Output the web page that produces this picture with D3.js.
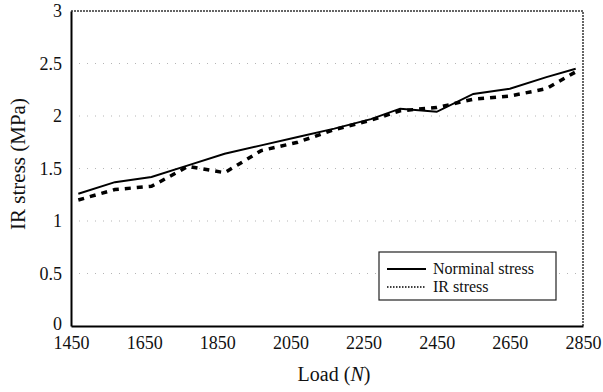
<!DOCTYPE html>
<html>
<head>
<meta charset="utf-8">
<script src="https://cdn.jsdelivr.net/npm/d3@7"></script>
<style>
body { margin: 0; background: #fff; }
</style>
</head>
<body>
<script>
var loads = [1470, 1570, 1670, 1770, 1870, 1970, 2070, 2170, 2270, 2350, 2450, 2550, 2650, 2750, 2830];
var nominalStress = [1.26, 1.37, 1.42, 1.53, 1.64, 1.72, 1.80, 1.88, 1.97, 2.07, 2.04, 2.21, 2.26, 2.37, 2.45];
var irStress = [1.20, 1.30, 1.33, 1.52, 1.46, 1.67, 1.75, 1.87, 1.96, 2.05, 2.08, 2.16, 2.19, 2.26, 2.42];
var xTicks = [1450, 1650, 1850, 2050, 2250, 2450, 2650, 2850];
var yTicks = [0, 0.5, 1, 1.5, 2, 2.5, 3];
var seriesNames = ["Norminal stress", "IR stress"];

var serif = "Liberation Serif, Tinos, Times New Roman, Times, Noto Serif, DejaVu Serif, serif";
var width = 603, height = 392;
var plot = {left: 71, right: 583, top: 11, bottom: 326};

var xScale = d3.scaleLinear().domain([1450, 2850]).range([plot.left, plot.right]);
var yScale = d3.scaleLinear().domain([0, 3]).range([plot.bottom, plot.top]);

var svg = d3.select("body")
            .append("svg")
            .attr("width", width)
            .attr("height", height);

// faint dotted grid
svg.append("g")
   .selectAll("line")
   .data(yTicks.filter(function(d) { return d > 0 && d < 3; }))
   .enter().append("line")
   .attr("x1", plot.left).attr("x2", plot.right)
   .attr("y1", function(d) { return yScale(d); })
   .attr("y2", function(d) { return yScale(d); })
   .attr("stroke", "#b5b5b5")
   .attr("stroke-width", 1)
   .style("stroke-dasharray", "1, 7");

// top and right frame
svg.append("path")
   .attr("d", `M${plot.left},${plot.top}H${plot.right}V${plot.bottom}`)
   .attr("fill", "none")
   .attr("stroke", "#333")
   .attr("stroke-width", 1.5)
   .style("stroke-dasharray", "2, 1");

// X axis
var xAxis = svg.append("g")
   .attr("transform", `translate(0, ${plot.bottom})`)
   .attr("font-family", serif)
   .call(d3.axisBottom(xScale).tickValues(xTicks).tickSize(0).tickPadding(6).tickFormat(d3.format("d")));
xAxis.attr("font-family", serif);
xAxis.select(".domain").attr("stroke", "#000").attr("stroke-width", 2);
xAxis.selectAll("text").attr("font-family", serif).attr("font-size", 18).attr("dy", "0.95em").attr("fill", "#111");

// Y axis
var yAxis = svg.append("g")
   .attr("transform", `translate(${plot.left}, 0)`)
   .call(d3.axisLeft(yScale).tickValues(yTicks).tickSize(0).tickPadding(9).tickFormat(d3.format("")));
yAxis.attr("font-family", serif);
yAxis.select(".domain").attr("stroke", "#000").attr("stroke-width", 2);
yAxis.selectAll("text").attr("font-family", serif).attr("font-size", 18).attr("fill", "#111")
     .attr("dy", function(d) { return d === 0 ? "0.2em" : "0.32em"; });

// X label
var xLabel = svg.append("text")
   .attr("x", 334)
   .attr("y", 381)
   .attr("text-anchor", "middle")
   .attr("font-family", serif)
   .attr("font-size", 20)
   .attr("fill", "#111");
xLabel.append("tspan").text("Load (");
xLabel.append("tspan").attr("font-style", "italic").text("N");
xLabel.append("tspan").text(")");

// Y label
svg.append("text")
   .attr("transform", "rotate(-90)")
   .attr("x", -164)
   .attr("y", 25)
   .attr("text-anchor", "middle")
   .attr("font-family", serif)
   .attr("font-size", 21)
   .attr("fill", "#111")
   .text("IR stress (MPa)");

var line_plot = d3.line()
   .x(function(d) { return xScale(d.load); })
   .y(function(d) { return yScale(d.value); });

var nominalData = loads.map(function(l, i) { return {load: l, value: nominalStress[i]}; });
var irData = loads.map(function(l, i) { return {load: l, value: irStress[i]}; });

svg.append("path")
   .attr("d", line_plot(irData))
   .attr("fill", "none")
   .attr("stroke", "#000")
   .attr("stroke-width", 3.5)
   .style("stroke-dasharray", "6, 6");

svg.append("path")
   .attr("d", line_plot(nominalData))
   .attr("fill", "none")
   .attr("stroke", "#000")
   .attr("stroke-width", 2);

// Legend
var legend = svg.append("g").attr("transform", "translate(379, 252)");
legend.append("rect")
   .attr("width", 177).attr("height", 48)
   .attr("fill", "#fff")
   .attr("stroke", "#222")
   .attr("stroke-width", 1.2);
legend.selectAll("line")
   .data(seriesNames)
   .enter().append("line")
   .attr("x1", 8).attr("x2", 47)
   .attr("y1", function(d, i) { return 17 + i * 18; })
   .attr("y2", function(d, i) { return 17 + i * 18; })
   .attr("stroke", "#000")
   .attr("stroke-width", function(d, i) { return i == 0 ? 2 : 1.5; })
   .style("stroke-dasharray", function(d, i) { return i == 0 ? null : "1.5, 1.5"; });
legend.selectAll("text")
   .data(seriesNames)
   .enter().append("text")
   .attr("x", 54)
   .attr("y", function(d, i) { return 22 + i * 18; })
   .attr("font-family", serif)
   .attr("font-size", 16)
   .attr("fill", "#111")
   .text(function(d) { return d; });
</script>
</body>
</html>
